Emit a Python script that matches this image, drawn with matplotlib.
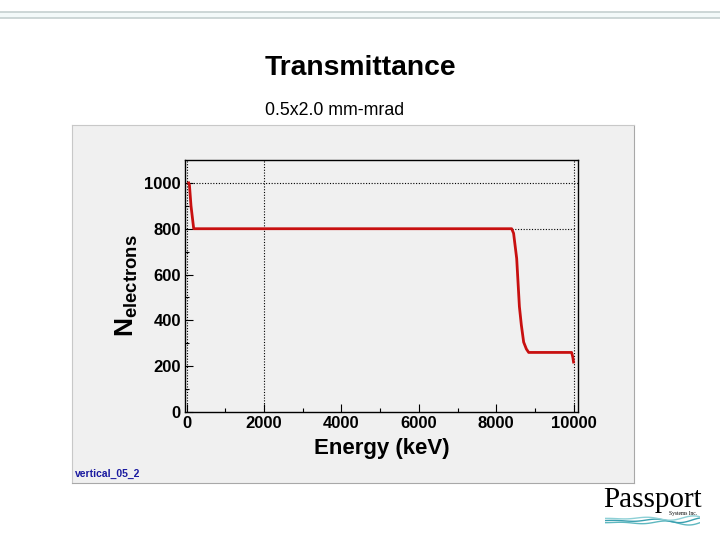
import matplotlib.pyplot as plt
import numpy as np
from matplotlib.patches import Rectangle
from matplotlib.lines import Line2D

plt.rcParams["font.family"] = ["Liberation Sans", "DejaVu Sans"]
plt.rcParams["mathtext.fontset"] = "custom"
plt.rcParams["mathtext.rm"] = "Liberation Sans:bold"
plt.rcParams["mathtext.bf"] = "Liberation Sans:bold"

# transmitted electrons vs energy
energy_kev = [50, 70, 110, 180, 1000, 3000, 5000, 7000, 8400, 8450, 8530, 8600,
              8650, 8710, 8780, 8840, 9000, 9500, 9950, 9980, 10000]
n_electrons = [1000, 990, 900, 800, 800, 800, 800, 800, 800, 780, 670, 460,
               380, 305, 275, 260, 260, 260, 260, 240, 218]

x_ticks = [0, 2000, 4000, 6000, 8000, 10000]
y_ticks = [0, 200, 400, 600, 800, 1000]

W, H = 720, 540
fig = plt.figure(figsize=(7.2, 5.4), dpi=100)
fig.patch.set_facecolor("white")


def fx(px):
    return px / W


def fy(py):
    return 1 - py / H


# slide header band
fig.patches.append(Rectangle((0, fy(18)), 1, fy(12) - fy(18), transform=fig.transFigure,
                             facecolor="#f3f9f9", edgecolor="none", zorder=-5))
for yy in (12, 18):
    fig.lines.append(Line2D([0, 1], [fy(yy), fy(yy)], transform=fig.transFigure,
                            color="#c5cfcf", lw=1.2))

fig.text(fx(265), fy(68), "Transmittance", fontsize=20.3, fontweight="bold",
         ha="left", va="center")
fig.text(fx(265), fy(111), "0.5x2.0 mm-mrad", fontsize=12.8, ha="left", va="center")

# grey canvas as its own axes behind the plot
canvas = fig.add_axes([fx(72), fy(483), fx(634) - fx(72), fy(125) - fy(483)], zorder=-1)
canvas.set_facecolor("#f0f0f0")
canvas.set_xticks([])
canvas.set_yticks([])
for s in canvas.spines.values():
    s.set_color("#c8c8c8")
canvas.spines["right"].set_color("#a8a8a8")
canvas.spines["bottom"].set_color("#a8a8a8")
canvas.text(0.005, 0.01, "vertical_05_2", fontsize=7.5, fontweight="bold",
            color="#1a1aa0", ha="left", va="bottom", transform=canvas.transAxes)

ax = fig.add_axes([fx(185), fy(412), fx(578) - fx(185), fy(160) - fy(412)])
ax.set_facecolor("#f0f0f0")
ax.plot(energy_kev, n_electrons, color="#c81010", lw=2)

ax.set_xlim(-45, 10115)
ax.set_ylim(0, 1100)
ax.set_xticks(x_ticks)
ax.set_yticks(y_ticks)
ax.set_xticks(np.arange(1000, 10000, 2000), minor=True)
ax.set_yticks(np.arange(100, 1100, 200), minor=True)
ax.tick_params(which="both", direction="in", top=False, right=False, width=0.8)
ax.tick_params(which="major", length=6, labelsize=12, pad=3)
ax.tick_params(which="minor", length=3)
for lab in ax.get_xticklabels() + ax.get_yticklabels():
    lab.set_fontweight("bold")

for xv in (0, 2000, 10000):
    ax.axvline(xv, color="black", lw=0.8, ls=(0, (1, 1.5)), zorder=0)
ax.axhline(1000, color="black", lw=0.8, ls=(0, (1, 1.5)), zorder=0)
ax.plot([8400, 10000], [800, 800], color="black", lw=0.8, ls=(0, (1, 1.5)), zorder=0)

for s in ax.spines.values():
    s.set_linewidth(1.0)

ax.set_xlabel("Energy (keV)", fontsize=16, fontweight="bold", labelpad=5)
ax.set_ylabel(r"N$_{\mathrm{electrons}}$", fontsize=19, fontweight="bold", labelpad=3)

# company logo, bottom right
fig.text(fx(653), fy(500), "Passport", fontsize=21, family="Liberation Serif",
         ha="center", va="center")
fig.text(fx(683), fy(514), "Systems Inc.", fontsize=4, family="Liberation Serif",
         ha="center", va="center")
logo = fig.add_axes([fx(605), fy(528), fx(700) - fx(605), fy(512) - fy(528)])
logo.set_axis_off()
t = np.linspace(0, 1, 100)
for k, c in enumerate(["#5fb8c0", "#3aa0b0", "#8dd0d6"]):
    logo.plot(t, 0.2 * k + 0.25 * np.sin(2 * np.pi * (2 * t + 0.2 * k)) * t, color=c, lw=1)
logo.set_xlim(0, 1)
logo.set_ylim(-0.5, 1.0)

fig.savefig("out.png", dpi=100)
